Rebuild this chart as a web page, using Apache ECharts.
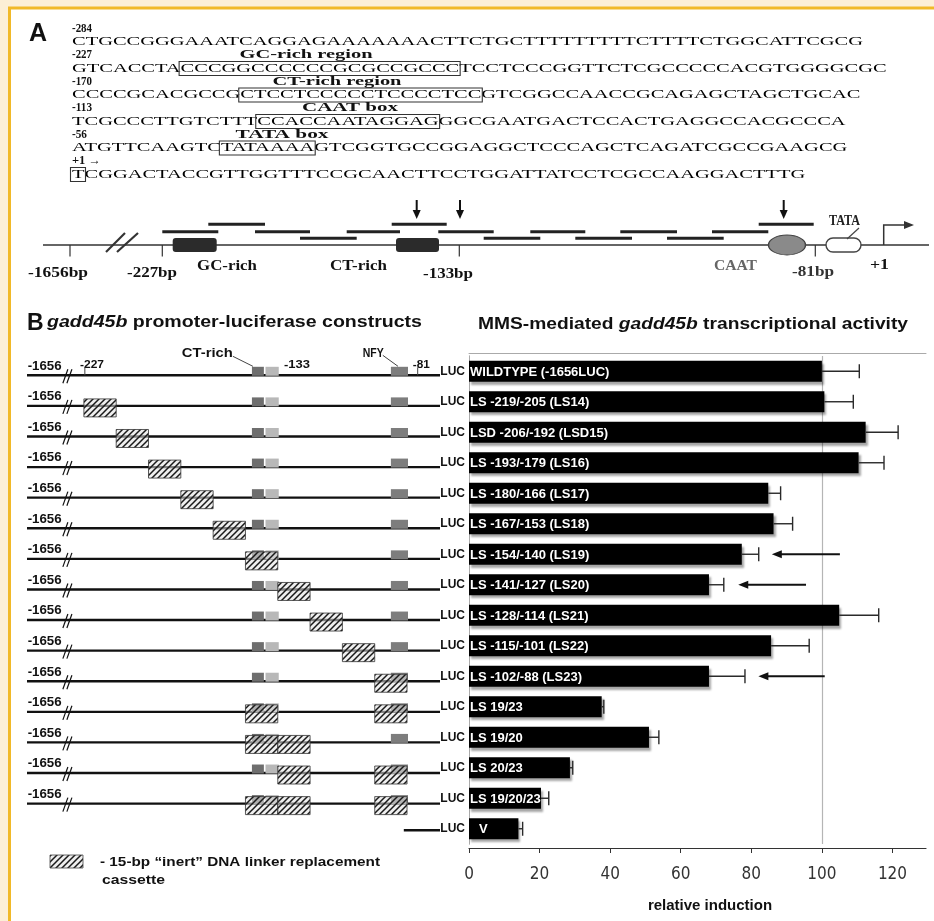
<!DOCTYPE html>
<html>
<head>
<meta charset="utf-8">
<script src="https://cdn.jsdelivr.net/npm/echarts@6/dist/echarts.min.js"></script>
<style>
  html, body { margin: 0; padding: 0; background: #fcefd6; }
  #chart { width: 934px; height: 921px; }
</style>
</head>
<body>
<div id="chart"></div>
<script>
// ---- data ----
const constructLabels = [
  'WILDTYPE (-1656LUC)', 'LS -219/-205 (LS14)', 'LSD -206/-192 (LSD15)', 'LS -193/-179 (LS16)',
  'LS -180/-166 (LS17)', 'LS -167/-153 (LS18)', 'LS -154/-140 (LS19)', 'LS -141/-127 (LS20)',
  'LS -128/-114 (LS21)', 'LS -115/-101 (LS22)', 'LS -102/-88 (LS23)', 'LS 19/23',
  'LS 19/20', 'LS 20/23', 'LS 19/20/23', 'V'
];
const induction    = [100, 100.7, 112.4, 110.4, 84.8, 86.3, 77.3, 68, 104.9, 85.6, 68, 37.6, 51, 28.6, 20.4, 14];
const inductionErr = [10.6, 8.2, 9.2, 7.2, 3.5, 5.4, 4.8, 4.2, 11.2, 10.8, 10.2, 0.6, 2.8, 0.8, 2.2, 1.2];
const xTicks = [0, 20, 40, 60, 80, 100, 120];
// arrows next to the bars: [row, tail, head]
const arrowMarks = [[6, 105.1, 85.8], [7, 95.5, 76.3], [10, 100.8, 82]];
// replaced 15-bp slots per construct (null = empty vector)
const cassetteSlots = [[], [0], [1], [2], [3], [4], [5], [6], [7], [8], [9], [5, 9], [5, 6], [6, 9], [5, 6, 9], null];

// panel A
const seqStarts = ['-284', '-227', '-170', '-113', '-56', '+1 \u2192'];
const seqLines = [
  ['CTGCCGGGAAATCAGGAGAAAAAAACTTCTGCTTTTTTTTTCTTTTCTGGCATTCGCG'],
  ['GTCACCTA', 'CCCGGCCCCCCGCGCCGCCC', 'TCCTCCCGGTTCTCGCCCCCACGTGGGGCGC'],
  ['CCCCGCACGCCG', 'CTCCTCCCCCTCCCCTCC', 'GTCGGCCAACCGCAGAGCTAGCTGCAC'],
  ['TCGCCCTTGTCTTT', 'CCACCAATAGGAG', 'GGCGAATGACTCCACTGAGGCCACGCCCA'],
  ['ATGTTCAAGTC', 'TATAAAA', 'GTCGGTGCCGGAGGCTCCCAGCTCAGATCGCCGAAGCG'],
  ['', 'T', 'CGGACTACCGTTGGTTTCCGCAACTTCCTGGATTATCCTCGCCAAGGACTTTG']
];
const seqRegions = [null, 'GC-rich region', 'CT-rich region', 'CAAT box', 'TATA box', null];
// linker-scanning segments over the promoter map: [from, to, level]
const lsSegments = [
  [162.3, 218.3, 1], [208.3, 265, 0], [255, 310, 1], [300, 356.7, 2], [346.7, 400, 1],
  [391.7, 446.7, 0], [438.3, 493.7, 1], [483.7, 540.3, 2], [530.3, 585.3, 1], [575.3, 632, 2],
  [620.3, 677, 1], [667, 723.7, 2], [712, 768.3, 1], [758.7, 813.7, 0]
];
const lsArrows = [416.7, 460, 783.7];

// ---- helpers ----
const SANS = '"Liberation Sans", Arial, sans-serif';
const SERIF = '"Liberation Serif", "Times New Roman", serif';
const mctx = document.createElement('canvas').getContext('2d');
function measure(str, font) { mctx.font = font; return mctx.measureText(str).width; }
function fitText(str, font, x, y, width, fill) {
  return {
    type: 'text', x: x, y: y, scaleX: width / measure(str, font),
    style: { text: str, font: font, fill: fill || '#111', align: 'left', verticalAlign: 'middle' }
  };
}
function hatchCanvas() {
  const c = document.createElement('canvas');
  c.width = c.height = 6;
  const g = c.getContext('2d');
  g.fillStyle = 'rgba(225,225,225,0.55)';
  g.fillRect(0, 0, 6, 6);
  g.strokeStyle = '#1a1a1a';
  g.lineWidth = 1.5;
  g.beginPath();
  g.moveTo(-1, 7); g.lineTo(7, -1);
  g.moveTo(-1, 1); g.lineTo(1, -1);
  g.moveTo(5, 7); g.lineTo(7, 5);
  g.stroke();
  return c;
}
const hatch = { type: 'pattern', image: hatchCanvas(), repeat: 'repeat' };

// ---- static drawing (frame, panel A, titles, legend) ----
const G = [];
G.push({ type: 'rect', z: -5, silent: true, shape: { x: 9.5, y: 8, width: 940, height: 930 },
  style: { fill: '#fff', stroke: '#f1b928', lineWidth: 3 } });
G.push({ type: 'text', x: 29, y: 34, style: { text: 'A', font: 'bold 25px ' + SANS, fill: '#111', verticalAlign: 'middle' } });

const seqFont = '12px ' + SERIF;
const seqScale = 791 / measure(seqLines[0].join(''), seqFont);
const regionPos = [null, [306, 133], [337, 129], [350, 96], [282, 93], null];
const startWidths = [20, 20, 20, 20, 15, 29];
seqLines.forEach((parts, i) => {
  const y = 42 + i * 26.5;
  G.push(fitText(seqStarts[i], 'bold 12px ' + SERIF, 72, y - 13.2, startWidths[i]));
  G.push({ type: 'text', x: 72, y: y, scaleX: seqScale,
    style: { text: parts.join(''), font: seqFont, fill: '#000', verticalAlign: 'middle' } });
  if (parts.length > 1) {
    const bx = 72 + measure(parts[0], seqFont) * seqScale;
    const bw = measure(parts[1], seqFont) * seqScale;
    G.push({ type: 'rect', shape: { x: bx - 1.5, y: y - 7, width: bw + 2.5, height: 14 },
      style: { fill: 'none', stroke: '#333', lineWidth: 1.1 } });
  }
  if (seqRegions[i]) {
    const p = regionPos[i];
    G.push(fitText(seqRegions[i], 'bold 12px ' + SERIF, p[0] - p[1] / 2, y - 13.5, p[1]));
  }
});

// promoter map
G.push({ type: 'line', shape: { x1: 43, y1: 245, x2: 929, y2: 245 }, style: { stroke: '#333', lineWidth: 1.6 } });
[70, 162.3, 459.3, 815.3].forEach(x => G.push({ type: 'line', shape: { x1: x, y1: 245, x2: x, y2: 256.5 },
  style: { stroke: '#333', lineWidth: 1.2 } }));
G.push({ type: 'line', shape: { x1: 106, y1: 252, x2: 125, y2: 233 }, style: { stroke: '#333', lineWidth: 2.2 } });
G.push({ type: 'line', shape: { x1: 117, y1: 252, x2: 138, y2: 233 }, style: { stroke: '#333', lineWidth: 2.2 } });
G.push({ type: 'rect', shape: { x: 172.7, y: 238, width: 44, height: 14, r: 3 }, style: { fill: '#2b2b2b' } });
G.push({ type: 'rect', shape: { x: 396, y: 238, width: 43, height: 14, r: 3 }, style: { fill: '#2b2b2b' } });
G.push({ type: 'circle', x: 787, y: 245, scaleY: 10 / 18.5, shape: { cx: 0, cy: 0, r: 18.5 },
  style: { fill: '#8a8a8a', stroke: '#444', lineWidth: 1.5 } });
G.push({ type: 'rect', shape: { x: 826, y: 238, width: 35, height: 14, r: 7 },
  style: { fill: '#fff', stroke: '#444', lineWidth: 1.4 } });
G.push({ type: 'line', shape: { x1: 859, y1: 228, x2: 847, y2: 239 }, style: { stroke: '#444', lineWidth: 1.2 } });
G.push({ type: 'polyline', shape: { points: [[883.7, 245], [883.7, 225], [906, 225]] },
  style: { fill: 'none', stroke: '#333', lineWidth: 1.5 } });
G.push({ type: 'polygon', shape: { points: [[904, 221], [914, 225], [904, 229]] }, style: { fill: '#333' } });
const mapLabels = [
  ['-1656bp', 28, 273, 60, '#111'], ['-227bp', 127, 273, 50, '#111'], ['GC-rich', 197, 266.5, 60, '#111'],
  ['CT-rich', 330, 266.5, 57, '#111'], ['-133bp', 423, 274, 50, '#111'], ['CAAT', 714, 266.5, 43, '#666'],
  ['-81bp', 792, 272, 42, '#333'], ['+1', 870, 265.5, 19, '#111'], ['TATA', 829, 221, 31, '#222']
];
mapLabels.forEach(l => G.push(fitText(l[0], 'bold 15px ' + SERIF, l[1], l[2], l[3], l[4])));

// panel B titles and legend
G.push({ type: 'text', x: 27, y: 324, style: { text: 'B', font: 'bold 23px ' + SANS, fill: '#111', verticalAlign: 'middle' } });
function richTitle(parts, x, y, width) {
  let w = 0;
  const rich = {};
  let text = '';
  parts.forEach((p, k) => {
    const font = (p[1] ? 'italic ' : '') + 'bold 16px ' + SANS;
    w += measure(p[0], font);
    rich['p' + k] = { fontSize: 16, fontWeight: 'bold', fontStyle: p[1] ? 'italic' : 'normal', fontFamily: SANS, fill: '#111' };
    text += '{p' + k + '|' + p[0] + '}';
  });
  return { type: 'text', x: x, y: y, scaleX: width / w, style: { text: text, rich: rich, verticalAlign: 'middle' } };
}
G.push(richTitle([['gadd45b', true], [' promoter-luciferase constructs', false]], 47, 323, 375));
G.push(richTitle([['MMS-mediated ', false], ['gadd45b', true], [' transcriptional activity', false]], 478, 325, 430));
G.push({ type: 'rect', shape: { x: 50, y: 855, width: 33, height: 13 }, style: { fill: hatch, stroke: '#444', lineWidth: 0.8 } });
G.push(fitText('- 15-bp \u201cinert\u201d DNA linker replacement', 'bold 13px ' + SANS, 100, 862, 280));
G.push(fitText('cassette', 'bold 13px ' + SANS, 102, 880, 63));

// ---- series render functions ----
function renderConstruct(params, api) {
  const row = api.value(1);
  const slots = cassetteSlots[row];
  const y = api.coord([0, row])[1];
  const X = s => api.coord([s, row])[0];
  const kids = [];
  const dna = { stroke: '#111', lineWidth: 2.4 };
  if (!slots) {
    kids.push({ type: 'line', shape: { x1: X(9.9), y1: y - 4, x2: X(11.02), y2: y - 4 }, style: dna });
    return { type: 'group', children: kids };
  }
  kids.push({ type: 'line', shape: { x1: X(-1.76), y1: y, x2: X(11.02), y2: y }, style: dna });
  kids.push(fitText('-1656', 'bold 12px ' + SANS, X(-1.74), y - 9, 34));
  kids.push({ type: 'line', shape: { x1: X(-0.65), y1: y + 8, x2: X(-0.495), y2: y - 6 }, style: { stroke: '#111', lineWidth: 1.2 } });
  kids.push({ type: 'line', shape: { x1: X(-0.526), y1: y + 8, x2: X(-0.37), y2: y - 6 }, style: { stroke: '#111', lineWidth: 1.2 } });
  // CT-rich and NFY boxes
  kids.push({ type: 'rect', shape: { x: X(5.2), y: y - 8.5, width: X(5.57) - X(5.2), height: 9 }, style: { fill: '#6e6e6e' } });
  kids.push({ type: 'rect', shape: { x: X(5.62), y: y - 8.5, width: X(6.03) - X(5.62), height: 9 }, style: { fill: '#b8b8b8' } });
  kids.push({ type: 'rect', shape: { x: X(9.5), y: y - 8.5, width: X(10.03) - X(9.5), height: 9 }, style: { fill: '#7d7d7d' } });
  slots.forEach(k => kids.push({ type: 'rect', shape: { x: X(k), y: y - 7, width: X(k + 1) - X(k), height: 18 },
    style: { fill: hatch, stroke: '#333', lineWidth: 0.8 } }));
  if (row === 0) {
    const thin = { stroke: '#444', lineWidth: 1 };
    kids.push(fitText('-227', 'bold 11px ' + SANS, X(-0.12), y - 10, 24));
    kids.push({ type: 'line', shape: { x1: X(0.03), y1: y - 8, x2: X(0.03), y2: y }, style: thin });
    kids.push(fitText('CT-rich', 'bold 13px ' + SANS, X(3.03), y - 22, 51));
    kids.push({ type: 'line', shape: { x1: X(4.61), y1: y - 19, x2: X(5.23), y2: y - 9 }, style: thin });
    kids.push(fitText('-133', 'bold 11px ' + SANS, X(6.19), y - 10, 26));
    kids.push(fitText('NFY', 'bold 13px ' + SANS, X(8.63), y - 22, 21));
    kids.push({ type: 'line', shape: { x1: X(9.25), y1: y - 20, x2: X(9.72), y2: y - 9 }, style: thin });
    kids.push(fitText('-81', 'bold 11px ' + SANS, X(10.18), y - 10, 17));
    kids.push({ type: 'line', shape: { x1: X(10.33), y1: y - 8, x2: X(10.33), y2: y }, style: thin });
  }
  return { type: 'group', children: kids };
}

function renderErr(params, api) {
  const row = api.value(0);
  const p0 = api.coord([api.value(1), row]);
  const p1 = api.coord([api.value(1) + api.value(2), row]);
  const st = { stroke: '#2a2a2a', lineWidth: 1.4 };
  return { type: 'group', children: [
    { type: 'line', shape: { x1: p0[0], y1: p0[1], x2: p1[0], y2: p1[1] }, style: st },
    { type: 'line', shape: { x1: p1[0], y1: p1[1] - 7, x2: p1[0], y2: p1[1] + 7 }, style: st }
  ] };
}

function renderArrow(params, api) {
  const row = api.value(0);
  const t = api.coord([api.value(1), row]);
  const h = api.coord([api.value(2), row]);
  return { type: 'group', children: [
    { type: 'line', shape: { x1: t[0], y1: t[1], x2: h[0] + 6, y2: h[1] }, style: { stroke: '#111', lineWidth: 2 } },
    { type: 'polygon', shape: { points: [[h[0], h[1]], [h[0] + 10, h[1] - 4], [h[0] + 10, h[1] + 4]] }, style: { fill: '#111' } }
  ] };
}

const levelY = [224.3, 231.7, 238.3];
function renderSegment(params, api) {
  const lv = levelY[api.value(2)];
  const a = api.coord([api.value(0), lv]);
  const b = api.coord([api.value(1), lv]);
  return { type: 'line', shape: { x1: a[0], y1: a[1], x2: b[0], y2: b[1] }, style: { stroke: '#222', lineWidth: 3 } };
}
function renderDownArrow(params, api) {
  const p = api.coord([api.value(0), 200]);
  return { type: 'group', children: [
    { type: 'line', shape: { x1: p[0], y1: p[1], x2: p[0], y2: p[1] + 12 }, style: { stroke: '#111', lineWidth: 2 } },
    { type: 'polygon', shape: { points: [[p[0] - 4, p[1] + 10], [p[0] + 4, p[1] + 10], [p[0], p[1] + 19]] }, style: { fill: '#111' } }
  ] };
}

// ---- chart ----
const chart = echarts.init(document.getElementById('chart'));
const option = {
  animation: false,
  backgroundColor: '#fcefd6',
  graphic: { elements: G },
  grid: [
    { left: 469, right: 8, top: 356, height: 488 },
    { left: 27, width: 413, top: 360, height: 489.5 },
    { left: 0, top: 0, width: 934, height: 921 }
  ],
  xAxis: [
    {
      gridIndex: 0, type: 'value', min: 0, max: 129.5, interval: 20, offset: 4,
      axisLine: { show: true, lineStyle: { color: '#333', width: 1.2 } },
      axisTick: { show: true, length: 5, customValues: xTicks, lineStyle: { color: '#333' } },
      axisLabel: { customValues: xTicks, margin: 18, color: '#333', fontSize: 17,
        fontFamily: '"Liberation Sans Narrow", "DejaVu Sans Condensed", sans-serif' },
      splitLine: { show: false },
      name: 'relative induction', nameLocation: 'middle', nameGap: 50,
      nameTextStyle: { fontFamily: SANS, fontWeight: 'bold', fontSize: 15, color: '#111', padding: [0, 0, 0, 25] }
    },
    {
      gridIndex: 0, type: 'value', min: 0, max: 129.5, position: 'top', offset: 3,
      axisLine: { show: true, lineStyle: { color: '#aaa' } },
      axisTick: { show: false }, axisLabel: { show: false }, splitLine: { show: false }
    },
    { gridIndex: 1, type: 'value', min: -1.76, max: 11.02, show: false },
    { gridIndex: 2, type: 'value', min: 0, max: 934, show: false }
  ],
  yAxis: [
    {
      gridIndex: 0, type: 'category', data: constructLabels, inverse: true,
      axisLine: { show: true, lineStyle: { color: '#aaa' } }, axisTick: { show: false },
      axisLabel: { formatter: () => 'LUC', margin: 4, color: '#111', fontFamily: SANS, fontWeight: 'bold', fontSize: 12 }
    },
    {
      gridIndex: 0, type: 'category', data: constructLabels, inverse: true, position: 'right',
      axisLine: { show: true, lineStyle: { color: '#aaa' } }, axisTick: { show: false }, axisLabel: { show: false }
    },
    { gridIndex: 1, type: 'category', data: constructLabels, inverse: true, show: false },
    { gridIndex: 2, type: 'value', min: 0, max: 921, inverse: true, show: false }
  ],
  series: [
    {
      type: 'line', xAxisIndex: 0, yAxisIndex: 0, data: [], z: 1,
      markLine: { z: 1, silent: true, symbol: 'none', label: { show: false },
        lineStyle: { color: '#b5b5b5', type: 'solid', width: 1.2 }, data: [{ xAxis: 100 }] }
    },
    {
      type: 'bar', xAxisIndex: 0, yAxisIndex: 0, barWidth: 21, z: 2,
      data: induction.map((v, i) => constructLabels[i] === 'V' ? { value: v, label: { distance: 10 } } : v),
      itemStyle: { color: '#000', shadowColor: 'rgba(0,0,0,0.35)', shadowBlur: 2, shadowOffsetX: 2, shadowOffsetY: 3 },
      label: { show: true, position: 'insideLeft', distance: 1, formatter: '{b}', color: '#fff',
        fontFamily: SANS, fontWeight: 'bold', fontSize: 13, offset: [0, 1] }
    },
    {
      type: 'custom', xAxisIndex: 0, yAxisIndex: 0, z: 3, renderItem: renderErr,
      encode: { x: [1, 2], y: 0 },
      data: induction.map((v, i) => [i, v, inductionErr[i]])
    },
    {
      type: 'custom', xAxisIndex: 0, yAxisIndex: 0, z: 3, renderItem: renderArrow,
      encode: { x: [1, 2], y: 0 }, data: arrowMarks
    },
    {
      type: 'custom', xAxisIndex: 2, yAxisIndex: 2, z: 3, renderItem: renderConstruct,
      encode: { x: 0, y: 1 }, data: constructLabels.map((n, i) => [0, i])
    },
    {
      type: 'custom', xAxisIndex: 3, yAxisIndex: 3, z: 3, renderItem: renderSegment,
      encode: { x: [0, 1], y: 2 }, data: lsSegments
    },
    {
      type: 'custom', xAxisIndex: 3, yAxisIndex: 3, z: 3, renderItem: renderDownArrow,
      encode: { x: 0, y: 1 }, data: lsArrows.map(x => [x, 200])
    }
  ]
};
chart.setOption(option);
</script>
</body>
</html>
